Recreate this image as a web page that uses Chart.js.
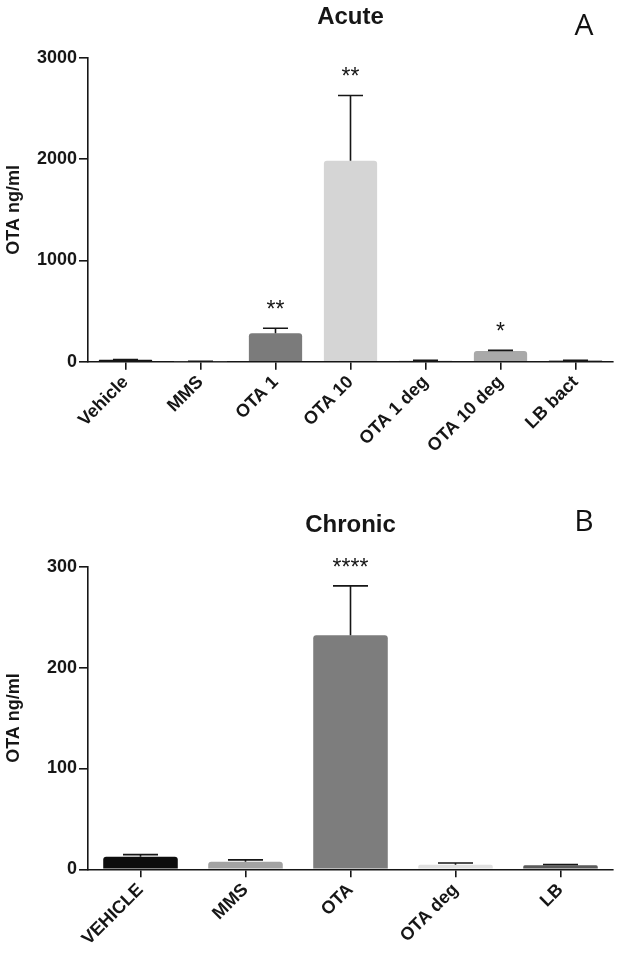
<!DOCTYPE html>
<html>
<head>
<meta charset="utf-8">
<script src="https://cdn.jsdelivr.net/npm/chart.js@4/dist/chart.umd.min.js"></script>
<style>
  body { margin: 0; background: #fff; }
  .panel { position: relative; width: 627px; height: 480px; }
</style>
</head>
<body>
<div class="panel"><canvas id="acuteChart"></canvas></div>
<div class="panel"><canvas id="chronicChart"></canvas></div>
<script>
var acuteLabels = ["Vehicle", "MMS", "OTA 1", "OTA 10", "OTA 1 deg", "OTA 10 deg", "LB bact"];
var acuteMeans = [20, 4, 280, 1985, 12, 106, 12];
var acuteSem = [2, 1, 50, 645, 2, 6, 2];
var acuteStars = ["", "", "**", "**", "", "*", ""];
var acuteColors = ["#141414", "#a0a0a0", "#7b7b7b", "#d5d5d5", "#dadada", "#a9a9a9", "#5a5a5a"];
var acuteTicks = [0, 1000, 2000, 3000];

var chronicLabels = ["VEHICLE", "MMS", "OTA", "OTA deg", "LB"];
var chronicMeans = [12.5, 7.5, 232, 4.5, 4];
var chronicSem = [2, 1.8, 49, 1.8, 0.8];
var chronicStars = ["", "", "****", "", ""];
var chronicColors = ["#0d0d0d", "#a3a3a3", "#7d7d7d", "#e0e0e0", "#5a5a5a"];
var chronicTicks = [0, 100, 200, 300];

var ink = "#161616";
var boldFont = "'Liberation Sans', Arial, sans-serif";

// error bars (up only) + significance stars + panel letter
var extrasPlugin = {
    id: "extras",
    afterDatasetsDraw: (chart, args, opts) => {
        let ctx = chart.ctx;
        let yScale = chart.scales.y;
        let meta = chart.getDatasetMeta(0);
        ctx.save();
        meta.data.forEach((bar, i) => {
            let top = yScale.getPixelForValue(opts.means[i] + opts.sem[i]);
            let half = bar.width * 0.235;
            ctx.strokeStyle = ink;
            ctx.lineWidth = 1.6;
            ctx.beginPath();
            ctx.moveTo(bar.x, bar.y);
            ctx.lineTo(bar.x, top);
            ctx.moveTo(bar.x - half, top);
            ctx.lineTo(bar.x + half, top);
            ctx.stroke();
            if (opts.stars[i]) {
                ctx.fillStyle = ink;
                ctx.font = "23px " + boldFont;
                ctx.textAlign = "center";
                ctx.textBaseline = "alphabetic";
                ctx.fillText(opts.stars[i], bar.x, top - 11);
            }
        });
        ctx.fillStyle = "#111";
        ctx.font = "30px 'Open Sans', sans-serif";
        ctx.textAlign = "center";
        ctx.textBaseline = "middle";
        ctx.fillText(opts.letter, opts.letterX, opts.letterY);
        ctx.restore();
    }
};

createChart = (id, cfg) => {
    return new Chart(document.getElementById(id), {
        type: "bar",
        data: {
            labels: cfg.labels,
            datasets: [{
                data: cfg.means,
                backgroundColor: cfg.colors,
                borderRadius: 3,
                barPercentage: 0.71,
                categoryPercentage: 1
            }]
        },
        options: {
            responsive: true,
            maintainAspectRatio: false,
            animation: false,
            layout: { padding: { left: 0, right: 14, top: 0, bottom: 0 } },
            plugins: {
                legend: { display: false },
                tooltip: { enabled: false },
                title: {
                    display: true,
                    text: cfg.title,
                    fullSize: false,
                    color: ink,
                    font: { family: boldFont, size: 24, weight: "bold" },
                    padding: { top: cfg.titleTop, bottom: cfg.titleBottom }
                },
                extras: {
                    means: cfg.means,
                    sem: cfg.sem,
                    stars: cfg.stars,
                    letter: cfg.letter,
                    letterX: 584,
                    letterY: cfg.letterY
                }
            },
            scales: {
                x: {
                    afterFit: s => { s.height = cfg.xHeight; },
                    grid: { display: true, drawOnChartArea: false, offset: false, tickLength: 8, color: ink, lineWidth: 1.6 },
                    border: { display: true, color: ink, width: 1.6 },
                    ticks: {
                        color: ink,
                        maxRotation: 45,
                        minRotation: 45,
                        padding: 2,
                        font: { family: boldFont, size: 18, weight: "bold" }
                    }
                },
                y: {
                    min: 0,
                    max: cfg.ticks[cfg.ticks.length - 1],
                    afterFit: s => { s.width = 88; },
                    afterBuildTicks: s => { s.ticks = cfg.ticks.map(v => ({ value: v })); },
                    grid: { display: true, drawOnChartArea: false, tickLength: 9, color: ink, lineWidth: 1.6 },
                    border: { display: true, color: ink, width: 1.6 },
                    ticks: {
                        color: ink,
                        padding: 2,
                        callback: v => String(v),
                        font: { family: boldFont, size: 18, weight: "bold" }
                    },
                    title: {
                        display: true,
                        text: "OTA ng/ml",
                        color: ink,
                        padding: { top: 3, bottom: 0 },
                        font: { family: boldFont, size: 18, weight: "bold" }
                    }
                }
            }
        },
        plugins: [extrasPlugin]
    });
}

createChart("acuteChart", {
    labels: acuteLabels, means: acuteMeans, sem: acuteSem, stars: acuteStars,
    colors: acuteColors, ticks: acuteTicks, title: "Acute",
    titleTop: 3, titleBottom: 26.2, xHeight: 118.3, letter: "A", letterY: 26
});

createChart("chronicChart", {
    labels: chronicLabels, means: chronicMeans, sem: chronicSem, stars: chronicStars,
    colors: chronicColors, ticks: chronicTicks, title: "Chronic",
    titleTop: 31, titleBottom: 26.9, xHeight: 90.7, letter: "B", letterY: 42
});
</script>
</body>
</html>
